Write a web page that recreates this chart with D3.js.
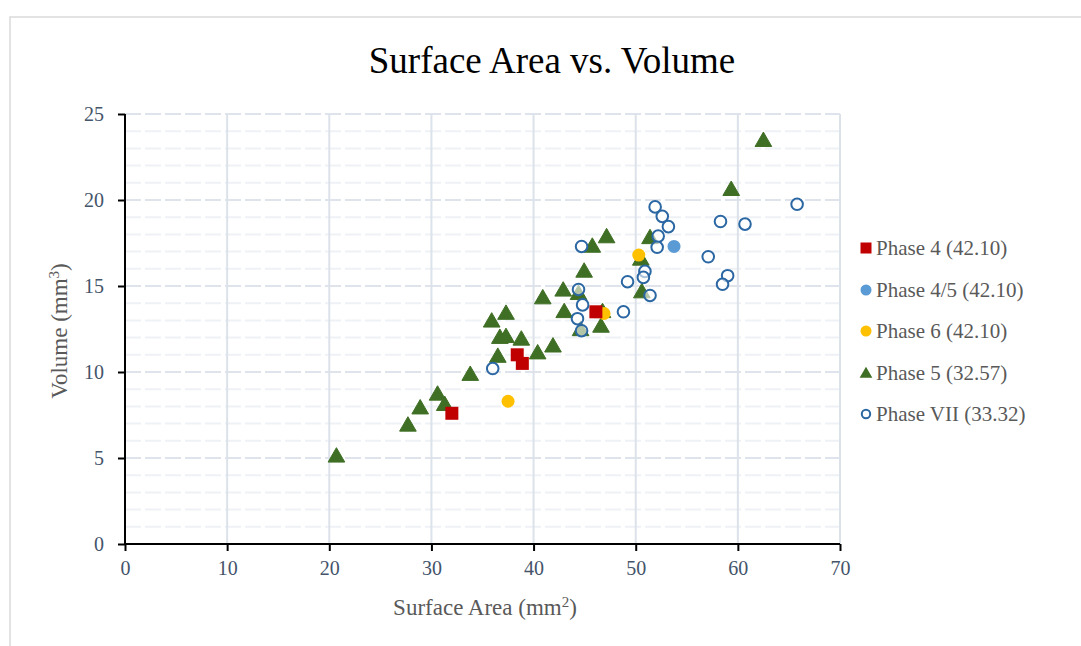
<!DOCTYPE html>
<html><head><meta charset="utf-8">
<script src="https://cdn.jsdelivr.net/npm/d3@7"></script>
<style>body{margin:0;background:#fff}svg{display:block}</style>
</head><body>
<svg id="c" width="1081" height="646"></svg>
<script>
const xTicks = [0,10,20,30,40,50,60,70];
const yTicks = [0,5,10,15,20,25];
const phase4 = [[32.0,7.6],[38.4,11.0],[38.9,10.5],[46.1,13.5]];
const phase45 = [[53.75,17.3]];
const phase6 = [[50.3,16.8],[37.5,8.3],[46.9,13.4]];
const phase5 = [[20.7,5.1],[27.7,6.9],[28.9,7.9],[30.6,8.7],[31.3,8.1],[33.8,9.85],[36.5,10.9],[35.9,12.95],[37.3,13.4],[36.7,12.0],[37.3,12.05],[38.8,11.9],[40.4,11.1],[41.9,11.5],[40.9,14.3],[42.9,14.75],[43.0,13.5],[44.4,14.55],[44.95,15.85],[44.6,12.45],[45.75,17.3],[47.15,17.85],[46.6,12.65],[46.75,13.5],[51.4,17.8],[50.5,16.55],[50.6,14.65],[62.5,23.45],[59.35,20.6]];
const phaseVII = [[36.0,10.2],[44.7,17.3],[44.4,14.8],[44.8,13.9],[44.3,13.1],[44.7,12.4],[48.8,13.5],[49.2,15.25],[51.9,19.6],[52.6,19.05],[53.2,18.45],[52.2,17.9],[52.1,17.25],[50.9,15.85],[50.75,15.5],[51.4,14.45],[57.1,16.7],[58.3,18.75],[60.7,18.6],[65.8,19.75],[59.0,15.6],[58.5,15.1]];
const seriesNames = ["Phase 4 (42.10)","Phase 4/5 (42.10)","Phase 6 (42.10)","Phase 5 (32.57)","Phase VII (33.32)"];

const svg = d3.select("#c");
const serif = "'Liberation Serif','Times New Roman',serif";
svg.append("rect").attr("x",10).attr("y",17).attr("width",1100).attr("height",700)
  .attr("fill","#fff").attr("stroke","#DADADA").attr("stroke-width",1.5);

const x = d3.scaleLinear().domain([0,70]).range([125,840]);
const y = d3.scaleLinear().domain([0,25]).range([544,114]);

const g = svg.append("g");
g.selectAll(".hm").data(d3.range(1,26).filter(v=>v%5!==0)).join("line")
  .attr("x1",x(0)).attr("x2",x(70)).attr("y1",d=>y(d)).attr("y2",d=>y(d))
  .attr("stroke","#EEF1F5").attr("stroke-width",2).attr("stroke-dasharray","16,4");
g.selectAll(".hM").data(yTicks.filter(v=>v>0)).join("line")
  .attr("x1",x(0)).attr("x2",x(70)).attr("y1",d=>y(d)).attr("y2",d=>y(d))
  .attr("stroke","#DFE4EC").attr("stroke-width",2).attr("stroke-dasharray","16,4");
g.selectAll(".v").data(xTicks.filter(v=>v>0)).join("line")
  .attr("x1",d=>x(d)).attr("x2",d=>x(d)).attr("y1",y(0)).attr("y2",y(25))
  .attr("stroke","#DCE2EA").attr("stroke-width",2);

const xa = svg.append("g").attr("transform",`translate(0,${y(0)})`)
  .call(d3.axisBottom(x).tickValues(xTicks).tickSize(7).tickPadding(10));
const ya = svg.append("g").attr("transform",`translate(${x(0)},0)`)
  .call(d3.axisLeft(y).tickValues(yTicks).tickSize(7).tickPadding(14));
[xa,ya].forEach(a=>{
  a.select(".domain").attr("stroke","#000").attr("stroke-width",2);
  a.selectAll(".tick line").attr("stroke","#000").attr("stroke-width",2);
  a.selectAll(".tick text").attr("fill","#44546A").style("font-family",serif).style("font-size","20px");
});
xa.select(".domain").attr("d",`M${x(0)},0H${x(70)}`);
ya.select(".domain").attr("d",`M0,${y(0)}V${y(25)}`);

svg.append("text").attr("x",552).attr("y",73).attr("text-anchor","middle")
  .style("font-family",serif).style("font-size","37px").attr("fill","#000").text("Surface Area vs. Volume");
const xl = svg.append("text").attr("x",485).attr("y",615).attr("text-anchor","middle")
  .style("font-family",serif).style("font-size","23px").attr("fill","#595959");
xl.append("tspan").text("Surface Area (mm");
xl.append("tspan").attr("baseline-shift","super").style("font-size","15px").text("2");
xl.append("tspan").text(")");
const yl = svg.append("text").attr("transform","translate(67,331) rotate(-90)").attr("text-anchor","middle")
  .style("font-family",serif).style("font-size","23px").attr("fill","#595959");
yl.append("tspan").text("Volume (mm");
yl.append("tspan").attr("baseline-shift","super").style("font-size","15px").text("3");
yl.append("tspan").text(")");

const tri = d3.symbol().type(d3.symbolTriangle).size(120);
svg.append("g").selectAll("path").data(phase5).join("path")
  .attr("d",tri).attr("transform",d=>`translate(${x(d[0])},${y(d[1])+1})`)
  .attr("fill","#3F6F24").attr("stroke","#3F6F24").attr("stroke-width",1);
svg.append("g").selectAll("circle").data(phase6).join("circle")
  .attr("cx",d=>x(d[0])).attr("cy",d=>y(d[1])).attr("r",6.5).attr("fill","#FFC000");
svg.append("g").selectAll("circle").data(phase45).join("circle")
  .attr("cx",d=>x(d[0])).attr("cy",d=>y(d[1])).attr("r",6.5).attr("fill","#5B9BD5");
svg.append("g").selectAll("rect").data(phase4).join("rect")
  .attr("x",d=>x(d[0])-6.5).attr("y",d=>y(d[1])-6.5).attr("width",13).attr("height",13).attr("fill","#C00000");
svg.append("g").selectAll("circle").data(phaseVII).join("circle")
  .attr("cx",d=>x(d[0])).attr("cy",d=>y(d[1])).attr("r",5.8).attr("fill","#fff").attr("fill-opacity",0.6)
  .attr("stroke","#2B67A3").attr("stroke-width",2);

const ly = [248,290,331,373,414];
const lg = svg.append("g");
lg.append("rect").attr("x",860.5).attr("y",ly[0]-5.5).attr("width",11).attr("height",11).attr("fill","#C00000");
lg.append("circle").attr("cx",866).attr("cy",ly[1]).attr("r",5.5).attr("fill","#5B9BD5");
lg.append("circle").attr("cx",866).attr("cy",ly[2]).attr("r",5.5).attr("fill","#FFC000");
lg.append("path").attr("d",d3.symbol().type(d3.symbolTriangle).size(70)).attr("transform",`translate(866,${ly[3]+1})`).attr("fill","#3F6F24");
lg.append("circle").attr("cx",866).attr("cy",ly[4]).attr("r",4.2).attr("fill","#fff").attr("stroke","#2B67A3").attr("stroke-width",2);
lg.selectAll("text").data(seriesNames).join("text")
  .attr("x",876).attr("y",(d,i)=>ly[i]+7).text(d=>d)
  .style("font-family",serif).style("font-size","21px").attr("fill","#595959");
</script>
</body></html>
